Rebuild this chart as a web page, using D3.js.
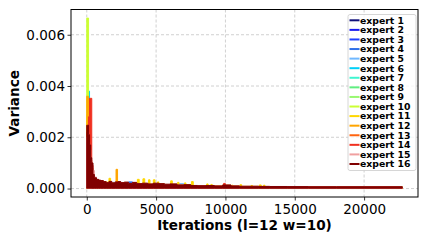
<!DOCTYPE html>
<html>
<head>
<meta charset="utf-8">
<script src="https://cdn.jsdelivr.net/npm/d3@7"></script>
<style>
  html, body { margin: 0; padding: 0; background: #ffffff; }
  svg { display: block; font-family: "DejaVu Sans", sans-serif; }
</style>
</head>
<body>
<svg id="chart" width="426" height="241"></svg>
<script>
// ---------------- DATA (variance values in units of 1e-4) ----------------
const iterations = [0, 60, 130, 200, 280, 360, 450, 550, 700, 850,
  1000, 1200, 1400, 1600, 1800, 2050, 2250, 2450, 2700, 3000,
  3300, 3600, 4000, 4400, 4800, 5200, 5600, 6000, 6500, 7000,
  7500, 8000, 8600, 9200, 9800, 10400, 11000, 11700, 12400, 13200,
  14500, 16000, 18000, 20000, 22750];

// experts with narrow spikes are sampled on their own iteration grids
const iterations11 = [0, 60, 130, 200, 280, 360, 450, 550, 700, 1000,
  1600, 1720, 2500, 3650, 3780, 4050, 4180, 4450, 4560, 4800,
  4920, 5100, 5200, 6050, 6170, 6550, 6650, 7050, 7150, 7550,
  7680, 8650, 8750, 8950, 9050, 9850, 9950, 10450, 10550, 11050,
  11170, 11850, 11950, 12450, 12580, 12750, 12850, 13200, 22750];
const iterations12 = [0, 60, 130, 200, 280, 360, 450, 550, 700, 850,
  1000, 1200, 1400, 1600, 1800, 2110, 2220, 2450, 2700, 3000,
  3300, 3600, 4000, 4400, 4800, 5200, 5600, 6000, 6500, 7000,
  7500, 8000, 8600, 9200, 9800, 10400, 11000, 11700, 12400, 13200,
  14500, 16000, 18000, 20000, 22750];
const iterations14 = [0, 60, 130, 200, 280, 360, 450, 550, 700, 850,
  1000, 1200, 1400, 1600, 1800, 2050, 2250, 2450, 2700, 3000,
  3300, 3600, 4000, 4400, 4800, 5200, 5600, 6000, 6500, 7000,
  7500, 8000, 8600, 9200, 9870, 9990, 11000, 11700, 12400, 13200,
  14500, 16000, 18000, 20000, 22750];

const expertNames = ["expert 1", "expert 2", "expert 3", "expert 4", "expert 5", "expert 6", "expert 7", "expert 8",
  "expert 9", "expert 10", "expert 11", "expert 12", "expert 13", "expert 14", "expert 15", "expert 16"];

const expert1 = [10, 12, 11, 9, 7, 5, 3.5, 3.0, 2.7, 2.5, 2.3, 2.1, 1.9, 2.2, 1.8, 2.0, 2.1, 1.8, 2.0, 1.6, 1.9, 1.5, 1.7, 1.4, 1.6, 1.5, 1.3, 1.4, 1.1, 1.1, 0.95, 0.9, 0.95, 0.8, 1.0, 0.8, 0.7, 0.7, 0.65, 0.6, 0.55, 0.5, 0.5, 0.5, 0.5];
const expert2 = [12, 14, 13, 10, 8, 6, 4, 3.2, 2.8, 2.6, 2.4, 2.2, 2.0, 2.3, 1.9, 2.1, 2.2, 1.9, 2.1, 1.7, 2.0, 1.6, 1.8, 1.5, 1.7, 1.5, 1.4, 1.5, 1.1, 1.2, 1.0, 0.9, 1.0, 0.85, 1.1, 0.85, 0.75, 0.75, 0.7, 0.65, 0.6, 0.55, 0.55, 0.55, 0.55];
const expert3 = [9, 11, 12, 11, 8, 5.5, 3.8, 3.1, 2.6, 2.4, 2.3, 2.0, 1.8, 2.1, 1.8, 2.0, 2.0, 1.8, 1.9, 1.6, 1.8, 1.5, 1.7, 1.4, 1.6, 1.4, 1.3, 1.4, 1.0, 1.1, 0.9, 0.85, 0.95, 0.8, 1.0, 0.8, 0.7, 0.7, 0.65, 0.6, 0.55, 0.5, 0.5, 0.5, 0.5];
const expert4 = [11, 13, 12, 10, 7.5, 6, 4.2, 3.3, 2.9, 2.6, 2.5, 2.2, 2.0, 2.3, 2.4, 2.1, 2.2, 1.9, 2.1, 2.6, 1.9, 1.6, 1.8, 1.5, 1.7, 1.5, 1.4, 1.5, 1.1, 1.2, 1.0, 0.9, 1.0, 0.85, 1.1, 0.85, 0.75, 0.75, 0.7, 0.65, 0.6, 0.55, 0.55, 0.55, 0.55];
const expert5 = [8, 10, 10, 9, 7, 5, 3.6, 3.0, 2.6, 2.4, 2.2, 2.0, 1.8, 2.1, 1.7, 1.9, 2.0, 1.7, 1.9, 1.5, 1.8, 1.4, 1.6, 1.3, 1.5, 1.4, 1.2, 1.4, 1.9, 1.1, 0.9, 0.85, 0.9, 0.8, 1.0, 0.8, 0.7, 0.7, 0.65, 0.6, 0.55, 0.5, 0.5, 0.5, 0.5];
const expert6 = [14, 16, 38, 13, 9, 6.5, 4, 3.3, 2.9, 2.7, 2.5, 2.2, 2.0, 2.3, 1.9, 2.2, 2.2, 1.9, 2.1, 1.7, 1.9, 1.6, 1.8, 1.5, 1.7, 1.5, 1.4, 1.5, 1.1, 1.2, 1.0, 0.9, 1.0, 0.8, 1.0, 0.8, 0.75, 0.75, 0.7, 0.65, 0.6, 0.55, 0.55, 0.55, 0.55];
const expert7 = [13, 15, 14, 12, 8, 6, 4, 3.2, 2.8, 2.6, 2.4, 2.1, 1.9, 2.2, 1.8, 2.1, 2.1, 1.8, 2.0, 1.7, 1.9, 1.5, 1.7, 1.4, 1.7, 1.5, 1.3, 1.4, 1.1, 1.1, 0.95, 0.9, 0.95, 0.8, 1.0, 0.8, 0.7, 0.7, 0.65, 0.6, 0.55, 0.5, 0.5, 0.5, 0.5];
const expert8 = [10, 12, 12, 10, 7, 5.5, 3.9, 3.1, 2.7, 2.5, 2.3, 2.1, 1.9, 2.2, 1.8, 2.0, 2.1, 1.8, 2.0, 1.6, 1.9, 1.5, 1.7, 1.4, 1.6, 1.4, 1.3, 1.4, 1.0, 1.1, 0.9, 0.85, 0.9, 0.8, 1.0, 0.8, 0.7, 0.7, 0.65, 0.6, 0.55, 0.5, 0.5, 0.5, 0.5];
const expert9 = [15, 17, 15, 12, 8.5, 6.5, 4.3, 3.4, 2.9, 2.7, 2.5, 2.2, 2.0, 2.4, 1.9, 2.2, 2.2, 1.9, 2.1, 1.7, 2.0, 1.6, 1.8, 1.5, 1.8, 1.6, 1.4, 1.5, 1.2, 1.2, 1.0, 0.95, 1.0, 0.85, 1.1, 0.85, 0.75, 0.75, 0.7, 0.65, 0.6, 0.55, 0.55, 0.55, 0.55];
const expert10 = [66.5, 66.5, 26, 14, 9, 7, 4.5, 3.4, 3.0, 2.8, 2.6, 2.3, 2.0, 2.4, 1.9, 2.2, 2.3, 2.0, 2.1, 1.7, 2.0, 1.6, 1.8, 1.5, 1.8, 1.6, 1.4, 1.5, 1.2, 1.2, 1.0, 0.95, 1.0, 0.85, 1.1, 0.85, 0.75, 0.75, 0.7, 0.65, 0.6, 0.55, 0.55, 0.55, 0.55];
const expert11 = [20, 20, 15, 12, 8, 6, 4, 3.5, 3.0, 2.5,
  4.0, 2.0, 1.9, 3.6, 1.7, 3.8, 1.7, 3.4, 1.6, 3.4,
  1.6, 2.6, 1.5, 3.0, 1.4, 2.4, 1.2, 2.2, 1.1, 2.7,
  1.0, 1.8, 0.9, 1.6, 0.9, 1.6, 0.85, 1.3, 0.8, 1.5,
  0.8, 1.2, 0.75, 1.4, 0.75, 1.3, 0.7, 0.65, 0.65];
const expert12 = [36, 36, 22, 15, 10, 8, 5, 3.8, 3.3, 3.1, 2.9, 2.6, 2.2, 2.6, 2.1, 7.5, 2.2, 2.2, 2.4, 1.9, 2.3, 1.8, 2.0, 1.7, 2.0, 1.8, 1.6, 1.7, 1.3, 1.4, 1.1, 1.0, 1.1, 0.9, 1.3, 0.9, 0.85, 0.85, 0.8, 0.75, 0.7, 0.65, 0.65, 0.65, 0.65];
const expert13 = [22, 23, 20, 16, 11, 8, 5, 3.9, 3.3, 3.0, 2.8, 2.5, 2.1, 2.5, 2.0, 2.4, 2.5, 2.1, 2.3, 1.9, 2.2, 1.7, 1.9, 1.6, 1.9, 1.7, 1.5, 1.6, 1.3, 1.3, 1.1, 1.0, 1.1, 0.9, 1.2, 0.9, 0.8, 0.8, 0.75, 0.7, 0.65, 0.6, 0.6, 0.6, 0.6];
const expert14 = [18, 20, 28, 35.2, 35.2, 9, 5, 3.8, 3.2, 3.0, 2.7, 2.4, 2.1, 2.4, 2.0, 2.3, 2.4, 2.0, 2.2, 1.8, 2.0, 1.7, 1.9, 1.6, 1.8, 1.6, 1.5, 1.6, 1.2, 1.3, 1.0, 1.0, 1.0, 0.9, 2.0, 0.9, 0.8, 0.8, 0.75, 0.7, 0.65, 0.6, 0.6, 0.6, 0.6];
const expert15 = [20, 22, 18, 15, 11, 9, 7.0, 4.5, 3.2, 3.0, 2.8, 2.4, 2.1, 2.5, 2.0, 2.3, 2.4, 2.1, 2.2, 1.8, 2.1, 1.7, 1.9, 1.6, 1.9, 1.7, 1.5, 1.6, 1.3, 1.3, 1.1, 1.0, 1.1, 0.9, 1.2, 0.9, 0.8, 0.8, 0.75, 0.7, 0.65, 0.6, 0.6, 0.6, 0.6];
const expert16 = [24.7, 24.7, 21, 17, 12, 10, 5.5, 4.2, 3.6, 3.3, 3.1, 2.7, 2.3, 2.8, 2.2, 2.6, 2.7, 2.3, 2.5, 2.0, 2.4, 1.9, 2.1, 1.8, 2.1, 1.9, 1.7, 1.8, 1.4, 1.5, 1.2, 1.1, 1.2, 1.0, 1.4, 1.0, 0.9, 0.9, 0.85, 0.8, 0.75, 0.7, 0.7, 0.7, 0.7];

// lower edge of each expert's oscillation band (1e-4 units)
const lowerBand = [0.2, 0.2, 0.2, 0.2, 0.2, 0.2, 0.2, 0.2, 0.2, 0.2, 0.15, 0.0, 0.05, 0.15, 0.15, 0.15];

const seriesValues = [expert1, expert2, expert3, expert4, expert5, expert6, expert7, expert8,
  expert9, expert10, expert11, expert12, expert13, expert14, expert15, expert16];
const seriesIterations = [iterations, iterations, iterations, iterations, iterations, iterations, iterations, iterations,
  iterations, iterations, iterations11, iterations12, iterations, iterations14, iterations, iterations];

const xTickValues = [0, 5000, 10000, 15000, 20000];
const yTickValues = [0, 20, 40, 60];
const yTickLabels = ["0.000", "0.002", "0.004", "0.006"];

// ---------------- STYLE ----------------
const colors = ["#10107a", "#1a1aee", "#2040ff", "#3070e8", "#70b8ff", "#00d0f8", "#40f5d0", "#60ee80",
  "#98f870", "#ccff33", "#ffd700", "#ffa500", "#ff6410", "#f03020", "#f0a0a0", "#800000"];

const plot = { left: 71, right: 418, top: 9.5, bottom: 197 };

const svg = d3.select("#chart");

const x = d3.scaleLinear().domain([-1137.5, 23887.5]).range([plot.left, plot.right]);
const y = d3.scaleLinear().domain([-3.3, 69.85]).range([plot.bottom, plot.top]);

// grid
const grid = svg.append("g");
grid.selectAll("line.gx").data(xTickValues).enter().append("line")
  .attr("x1", d => x(d)).attr("x2", d => x(d))
  .attr("y1", plot.top).attr("y2", plot.bottom)
  .attr("stroke", "#c4c4c4").attr("stroke-width", 0.8).attr("stroke-dasharray", "3,2");
grid.selectAll("line.gy").data(yTickValues).enter().append("line")
  .attr("x1", plot.left).attr("x2", plot.right)
  .attr("y1", d => y(d)).attr("y2", d => y(d))
  .attr("stroke", "#c4c4c4").attr("stroke-width", 0.8).attr("stroke-dasharray", "3,2");

// clip
svg.append("clipPath").attr("id", "clip").append("rect")
  .attr("x", plot.left).attr("y", plot.top)
  .attr("width", plot.right - plot.left).attr("height", plot.bottom - plot.top);

const series = svg.append("g").attr("clip-path", "url(#clip)");
seriesValues.forEach((vals, i) => {
  const its = seriesIterations[i];
  const pts = its.map((it, k) => ({ it: it, hi: vals[k], lo: lowerBand[i] }));
  const area = d3.area()
    .x(d => x(d.it))
    .y0(d => y(d.lo))
    .y1(d => y(d.hi))
    .curve(d3.curveStepAfter);
  series.append("path")
    .attr("d", area(pts))
    .attr("fill", colors[i])
    .attr("stroke", colors[i])
    .attr("stroke-width", 1);
});

// axes
const xAxis = d3.axisBottom(x).tickValues(xTickValues).tickSize(3.5).tickPadding(3.5).tickFormat(d3.format("d"));
const yAxis = d3.axisLeft(y).tickValues(yTickValues).tickSize(3.5).tickPadding(2.5)
  .tickFormat((d, i) => yTickLabels[i]);

const gx = svg.append("g").attr("transform", `translate(0,${plot.bottom})`).call(xAxis);
const gy = svg.append("g").attr("transform", `translate(${plot.left},0)`).call(yAxis);
[gx, gy].forEach(g => {
  g.select(".domain").remove();
  g.selectAll(".tick line").attr("stroke", "#000").attr("stroke-width", 0.8);
  g.selectAll(".tick text").attr("fill", "#000")
    .style("font-family", "DejaVu Sans, sans-serif").style("font-size", "13.5px");
});

// frame
svg.append("rect")
  .attr("x", plot.left).attr("y", plot.top)
  .attr("width", plot.right - plot.left).attr("height", plot.bottom - plot.top)
  .attr("fill", "none").attr("stroke", "#000").attr("stroke-width", 1);

// axis labels
svg.append("text")
  .attr("x", (plot.left + plot.right) / 2).attr("y", 229.5)
  .attr("text-anchor", "middle")
  .style("font-size", "13.6px").style("font-weight", "bold")
  .text("Iterations (l=12 w=10)");
svg.append("text")
  .attr("transform", `translate(19,${(plot.top + plot.bottom) / 2}) rotate(-90)`)
  .attr("text-anchor", "middle")
  .style("font-size", "13.6px").style("font-weight", "bold")
  .text("Variance");

// legend
const lg = svg.append("g");
lg.append("rect")
  .attr("x", 348).attr("y", 14.5).attr("width", 68).attr("height", 156)
  .attr("rx", 2).attr("fill", "#ffffff").attr("fill-opacity", 0.8)
  .attr("stroke", "#cccccc").attr("stroke-width", 0.8);
expertNames.forEach((name, i) => {
  const cy = 20.3 + i * 9.58;
  lg.append("line")
    .attr("x1", 349.5).attr("x2", 359.5).attr("y1", cy).attr("y2", cy)
    .attr("stroke", colors[i]).attr("stroke-width", 2);
  lg.append("text")
    .attr("x", 360).attr("y", cy + 3.3)
    .style("font-size", "9.3px").style("font-weight", "bold")
    .text(name);
});
</script>
</body>
</html>
